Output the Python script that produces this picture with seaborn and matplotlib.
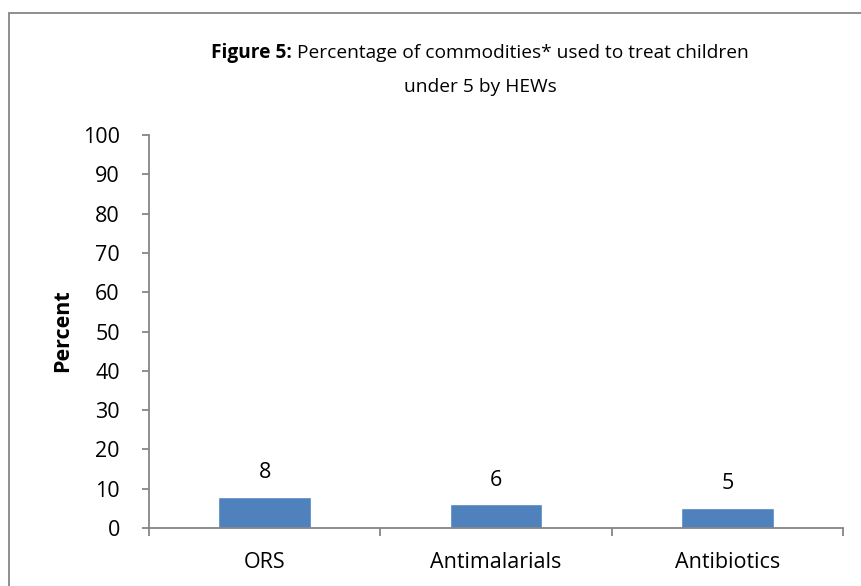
import numpy as np
import pandas as pd
import seaborn as sns
import matplotlib.pyplot as plt
from matplotlib.patches import Rectangle

# chart data
categories = ['ORS', 'Antimalarials', 'Antibiotics']
percent = [8, 6, 5]
yticks = list(range(0, 101, 10))

title_bold = 'Figure 5:'
title_rest = 'Percentage of commodities* used to treat children'
title_line2 = 'under 5 by HEWs'

sns.set_style('white')
plt.rcParams['font.family'] = ['Open Sans', 'DejaVu Sans']
plt.rcParams['text.color'] = 'black'
plt.rcParams['xtick.labelcolor'] = 'black'
plt.rcParams['ytick.labelcolor'] = 'black'

W, H = 861, 586
fig = plt.figure(figsize=(W / 100, H / 100), dpi=100)

# chart area border (runs off the right and bottom edges)
fig.patches.append(Rectangle((9 / W, -0.1), 1.2, (H - 13) / H + 0.1,
                             transform=fig.transFigure, fill=False,
                             edgecolor='#868686', linewidth=1.3))

ax = fig.add_axes([149 / W, 1 - 528 / H, (843 - 149) / W, (528 - 135) / H])

df = pd.DataFrame({'cat': categories, 'pct': percent})
sns.barplot(data=df, x='cat', y='pct', color='#4F81BD', width=0.4,
            saturation=1, ax=ax)
ax.bar_label(ax.containers[0], labels=[str(v) for v in percent],
             padding=10, fontsize=15.5, color='black')

ax.set_xlim(-0.5, 2.5)
ax.set_ylim(0, 100)
ax.set_yticks(yticks)
ax.set_xlabel('')
ax.set_ylabel('')

for s in ['top', 'right']:
    ax.spines[s].set_visible(False)
for s in ['left', 'bottom']:
    ax.spines[s].set_color('#868686')
    ax.spines[s].set_linewidth(1.3)

ax.set_xticks([-0.5, 0.5, 1.5, 2.5], minor=True)
ax.tick_params(axis='x', which='major', length=0, pad=17, labelsize=15.5,
               labelcolor='black')
ax.tick_params(axis='x', which='minor', length=6, width=1.3, color='#868686')
ax.tick_params(axis='y', length=5, width=1.3, color='#868686', pad=16,
               labelsize=15.5, labelcolor='black')
ax.tick_params(left=True, bottom=True)
ax.tick_params(axis='x', which='minor', bottom=True)

# y label
fig.text(63 / W, 1 - 331 / H, 'Percent', rotation=90, ha='center',
         va='center', fontsize=15.5, fontweight='bold', color='black')

# title: bold prefix + normal text on line 1, centred
r = fig.canvas.get_renderer()
tb = fig.text(0, 1 - 53 / H, title_bold, fontsize=13.8, fontweight='bold',
              va='center', ha='left', color='black')
tn = fig.text(0, 1 - 53 / H, title_rest, fontsize=13.8, va='center',
              ha='left', color='black')
wb = tb.get_window_extent(r).width
wn = tn.get_window_extent(r).width
gap = 5
x0 = 480 - (wb + gap + wn) / 2
tb.set_x(x0 / W)
tn.set_x((x0 + wb + gap) / W)
fig.text(480 / W, 1 - 87 / H, title_line2, fontsize=13.8, ha='center',
         va='center', color='black')

fig.savefig('out.png', dpi=100)
